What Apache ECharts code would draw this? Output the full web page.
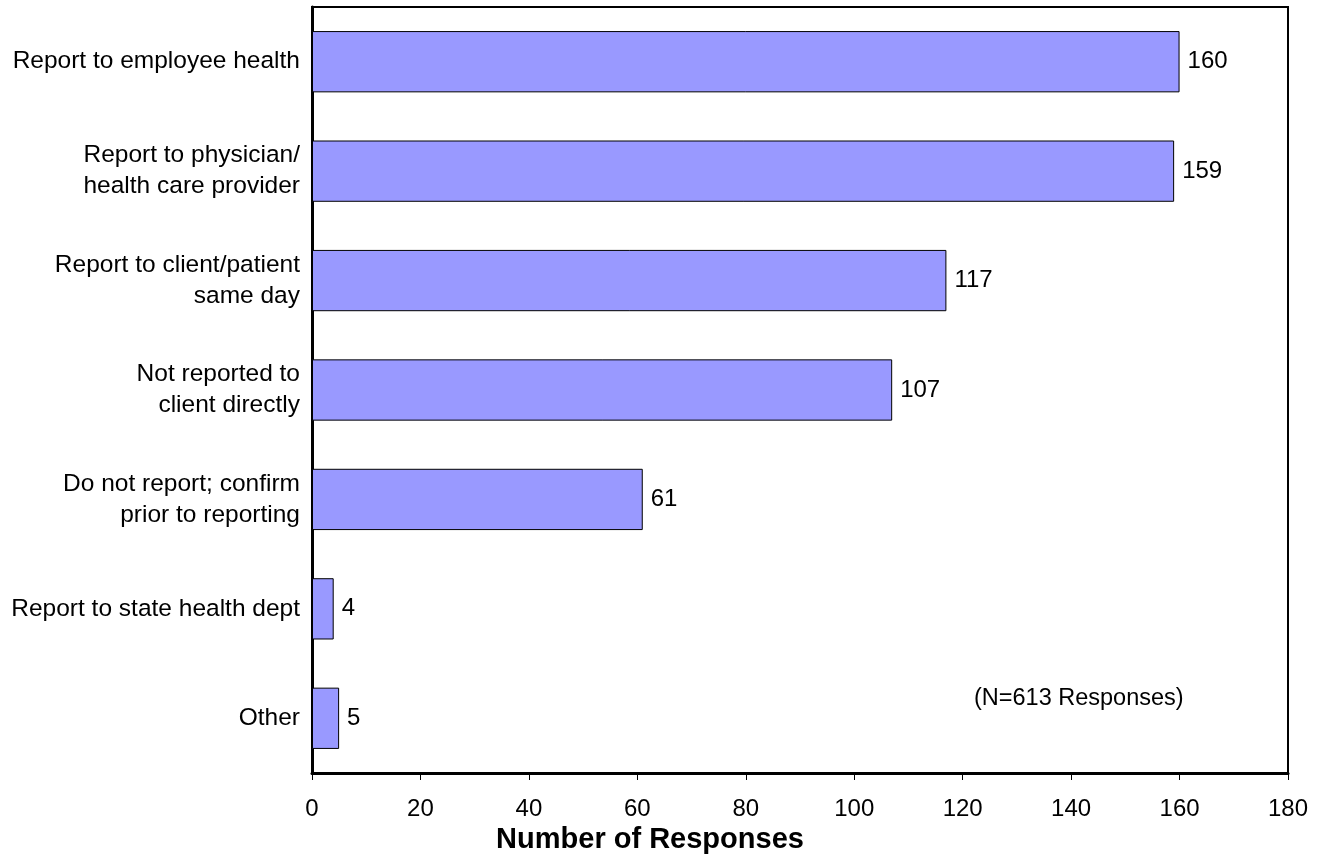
<!DOCTYPE html>
<html><head><meta charset="utf-8">
<script src="https://cdn.jsdelivr.net/npm/echarts@6/dist/echarts.min.js"></script>
<style>html,body{margin:0;padding:0;background:#fff}#c{width:1317px;height:854px}</style>
</head><body><div id="c"></div>
<script>
var categories = ["Report to employee health", "Report to physician/\nhealth care provider", "Report to client/patient\nsame day", "Not reported to\nclient directly", "Do not report; confirm\nprior to reporting", "Report to state health dept", "Other"];
var values = [160, 159, 117, 107, 61, 4, 5];
var xTicks = [0, 20, 40, 60, 80, 100, 120, 140, 160, 180];
var axisTitle = "Number of Responses";
var note = "(N=613 Responses)";

var font = "'Liberation Sans', Arial, sans-serif";
var chart = echarts.init(document.getElementById('c'));
chart.setOption({
  animation: false,
  backgroundColor: '#fff',
  grid: { left: 312, top: 7, right: 29, bottom: 81, show: true, borderColor: '#000', borderWidth: 2, containLabel: false, outerBoundsMode: 'none' },
  xAxis: {
    type: 'value', min: xTicks[0], max: xTicks[xTicks.length - 1], interval: 20,
    axisLine: { show: true, onZero: false, lineStyle: { color: '#000', width: 3 } },
    axisTick: { show: true, length: 7, lineStyle: { color: '#000', width: 1 } },
    splitLine: { show: false },
    axisLabel: { color: '#000', fontSize: 24, fontFamily: font, margin: 24 },
    name: axisTitle, nameLocation: 'middle', nameGap: 52,
    nameTextStyle: { color: '#000', fontSize: 29, fontWeight: 'bold', fontFamily: font, padding: [0, 300, 0, 0] }
  },
  yAxis: {
    type: 'category', data: categories, inverse: true,
    axisLine: { show: true, lineStyle: { color: '#000', width: 3 } },
    axisTick: { show: false },
    axisLabel: { color: '#000', fontSize: 24.5, fontFamily: font, margin: 12, lineHeight: 31, align: 'right', padding: [3, 0, 0, 0] }
  },
  series: [{
    type: 'bar', data: values, barCategoryGap: '44%',
    itemStyle: { color: '#9999FF', borderColor: '#000', borderWidth: 1 },
    label: { show: true, position: 'right', distance: 8, color: '#000', fontSize: 24, fontFamily: font }
  }],
  graphic: [{
    type: 'text', left: 974, top: 687,
    style: { text: note, fill: '#000', fontSize: 23.5, fontFamily: font }
  }]
});
</script></body></html>
